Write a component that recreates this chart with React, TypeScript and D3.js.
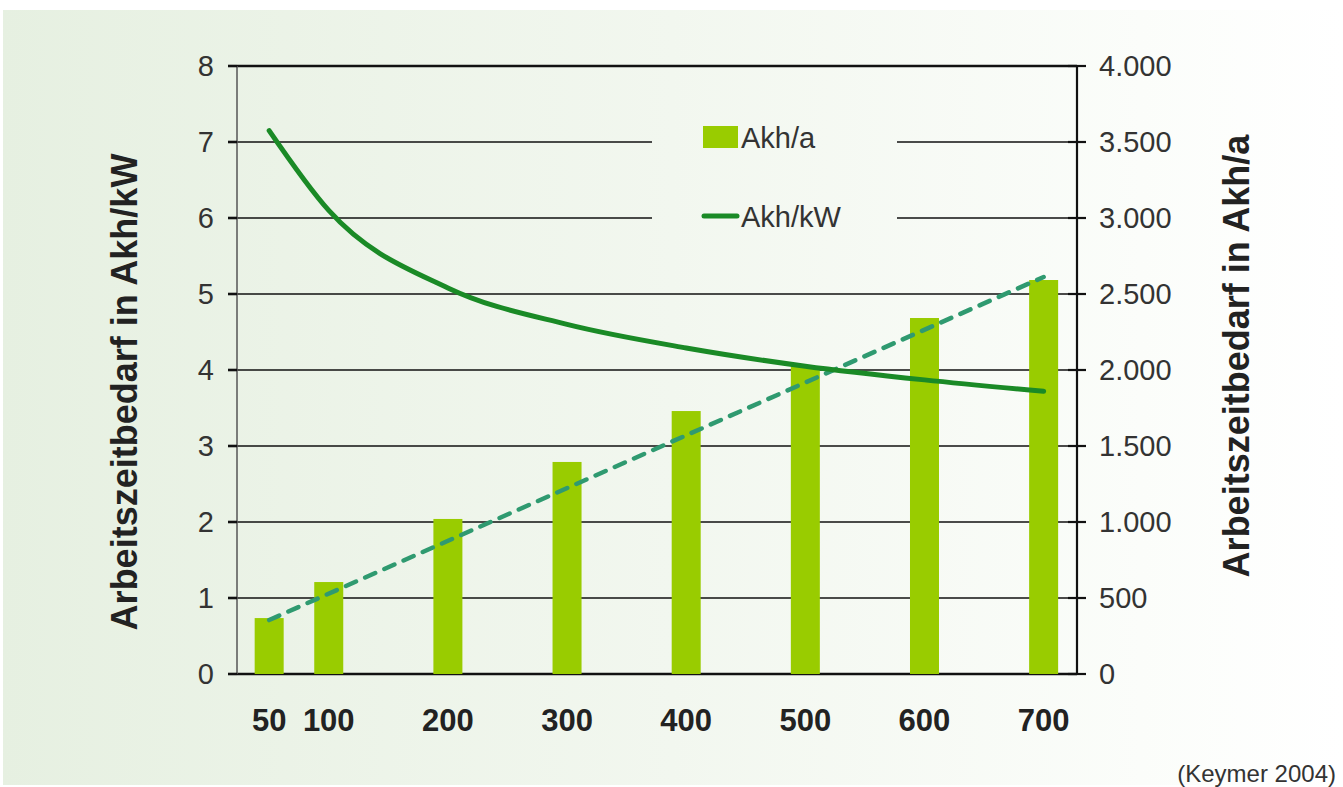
import React, { useEffect, useRef } from "react";
import * as d3 from "d3";

// installed power in kW
const leistung = [50, 100, 200, 300, 400, 500, 600, 700];
// bars: working time per year (right axis)
const akhProJahr = [368, 605, 1020, 1395, 1730, 2026, 2342, 2592];
// curve: working time per kW (left axis)
const akhProKw = [7.15, 6.1, 5.08, 4.6, 4.29, 4.05, 3.87, 3.72];
// dashed linear trend of the bars (end points)
const trendKw = [50, 700];
const trendAkh = [355, 2612];

const leftTicks = [0, 1, 2, 3, 4, 5, 6, 7, 8];
const rightTicks = [0, 500, 1000, 1500, 2000, 2500, 3000, 3500, 4000];

const W = 1343;
const H = 787;
const FONT = "Liberation Sans, Arial, sans-serif";

const App: React.FC = () => {
  const svgRef = useRef<SVGSVGElement>(null);

  useEffect(() => {
    if (!svgRef.current) return;
    const svg = d3.select(svgRef.current);
    svg.selectAll("*").remove();

    const left = 237;
    const right = 1077;
    const top = 66;
    const bottom = 674;

    // Background gradient
    const defs = svg.append("defs");
    const grad = defs
      .append("linearGradient")
      .attr("id", "bg")
      .attr("gradientUnits", "userSpaceOnUse")
      .attr("x1", 0)
      .attr("x2", W)
      .attr("y1", 0)
      .attr("y2", 0);
    grad.append("stop").attr("offset", "0%").attr("stop-color", "#e6f0e1");
    grad.append("stop").attr("offset", "50%").attr("stop-color", "#f2f7ef");
    grad.append("stop").attr("offset", "85%").attr("stop-color", "#fbfdfa");
    grad.append("stop").attr("offset", "100%").attr("stop-color", "#ffffff");

    svg.append("rect").attr("width", W).attr("height", H).attr("fill", "#ffffff");
    svg
      .append("rect")
      .attr("x", 3)
      .attr("y", 10)
      .attr("width", W - 3)
      .attr("height", 775)
      .attr("fill", "url(#bg)");

    // Scales
    const x = d3.scaleLinear().domain([23, 728]).range([left, right]);
    const yL = d3.scaleLinear().domain([0, 8]).range([bottom, top]);
    const yR = d3.scaleLinear().domain([0, 4000]).range([bottom, top]);

    // Gridlines
    svg
      .append("g")
      .selectAll("line")
      .data(leftTicks)
      .enter()
      .append("line")
      .attr("x1", left)
      .attr("x2", right)
      .attr("y1", (d) => yL(d))
      .attr("y2", (d) => yL(d))
      .attr("stroke", "#111")
      .attr("stroke-width", (d) => (d === 0 || d === 8 ? 2.4 : 1.6));

    // Legend box hides gridlines
    svg
      .append("rect")
      .attr("x", 652)
      .attr("y", 112)
      .attr("width", 245)
      .attr("height", 135)
      .attr("fill", "url(#bg)");

    // Left axis
    const axL = svg.append("g");
    axL
      .append("line")
      .attr("x1", left)
      .attr("x2", left)
      .attr("y1", top)
      .attr("y2", bottom)
      .attr("stroke", "#555")
      .attr("stroke-width", 1.5);
    axL
      .selectAll("line.tick")
      .data(leftTicks)
      .enter()
      .append("line")
      .attr("class", "tick")
      .attr("x1", left - 9)
      .attr("x2", left)
      .attr("y1", (d) => yL(d))
      .attr("y2", (d) => yL(d))
      .attr("stroke", "#111")
      .attr("stroke-width", 2.6);
    axL
      .selectAll("text")
      .data(leftTicks)
      .enter()
      .append("text")
      .attr("x", left - 23)
      .attr("y", (d) => yL(d))
      .attr("dy", "0.36em")
      .attr("text-anchor", "end")
      .style("font-family", FONT)
      .style("font-size", "29px")
      .attr("fill", "#333")
      .text((d) => d);

    // Right axis
    const axR = svg.append("g");
    axR
      .append("line")
      .attr("x1", right)
      .attr("x2", right)
      .attr("y1", top)
      .attr("y2", bottom)
      .attr("stroke", "#111")
      .attr("stroke-width", 2.2);
    axR
      .selectAll("line.tick")
      .data(rightTicks)
      .enter()
      .append("line")
      .attr("class", "tick")
      .attr("x1", right - 9)
      .attr("x2", right + 9)
      .attr("y1", (d) => yR(d))
      .attr("y2", (d) => yR(d))
      .attr("stroke", "#111")
      .attr("stroke-width", 2.2);
    const fmt = d3.formatLocale({
      decimal: ",",
      thousands: ".",
      grouping: [3],
      currency: ["", "€"],
    }).format(",d");
    axR
      .selectAll("text")
      .data(rightTicks)
      .enter()
      .append("text")
      .attr("x", right + 22)
      .attr("y", (d) => yR(d))
      .attr("dy", "0.36em")
      .attr("text-anchor", "start")
      .style("font-family", FONT)
      .style("font-size", "29px")
      .attr("fill", "#333")
      .text((d) => fmt(d));

    // Bars
    const barW = 29;
    svg
      .append("g")
      .selectAll("rect")
      .data(leistung)
      .enter()
      .append("rect")
      .attr("x", (d) => x(d) - barW / 2)
      .attr("y", (d, i) => yR(akhProJahr[i]))
      .attr("width", barW)
      .attr("height", (d, i) => bottom - yR(akhProJahr[i]))
      .attr("fill", "#99cc00");

    // Trend line (dashed)
    svg
      .append("line")
      .attr("x1", x(trendKw[0]))
      .attr("y1", yR(trendAkh[0]))
      .attr("x2", x(trendKw[1]))
      .attr("y2", yR(trendAkh[1]))
      .attr("stroke", "#2f9a70")
      .attr("stroke-width", 4.5)
      .attr("stroke-dasharray", "11 10")
      .attr("stroke-linecap", "round");

    // Akh/kW curve
    const line = d3
      .line<number>()
      .x((d) => x(d))
      .y((d, i) => yL(akhProKw[i]))
      .curve(d3.curveMonotoneX);
    svg
      .append("path")
      .datum(leistung)
      .attr("d", line)
      .attr("fill", "none")
      .attr("stroke", "#1a8a26")
      .attr("stroke-width", 5)
      .attr("stroke-linecap", "round");

    // X labels
    svg
      .append("g")
      .selectAll("text")
      .data(leistung)
      .enter()
      .append("text")
      .attr("x", (d) => x(d))
      .attr("y", 731)
      .attr("text-anchor", "middle")
      .style("font-family", FONT)
      .style("font-size", "31px")
      .style("font-weight", "bold")
      .attr("fill", "#222")
      .text((d) => d);

    // Axis titles
    svg
      .append("text")
      .attr("transform", `translate(137,${(top + bottom) / 2 + 22}) rotate(-90)`)
      .attr("text-anchor", "middle")
      .style("font-family", FONT)
      .style("font-size", "36px")
      .style("font-weight", "bold")
      .attr("fill", "#222")
      .text("Arbeitszeitbedarf in Akh/kW");
    svg
      .append("text")
      .attr("transform", `translate(1249,${(top + bottom) / 2 - 14}) rotate(-90)`)
      .attr("text-anchor", "middle")
      .style("font-family", FONT)
      .style("font-size", "36px")
      .style("font-weight", "bold")
      .attr("fill", "#222")
      .text("Arbeitszeitbedarf in Akh/a");

    // Legend
    const lg = svg.append("g");
    lg.append("rect")
      .attr("x", 703)
      .attr("y", 126)
      .attr("width", 35)
      .attr("height", 22)
      .attr("fill", "#99cc00");
    lg.append("line")
      .attr("x1", 704)
      .attr("x2", 737)
      .attr("y1", 216)
      .attr("y2", 216)
      .attr("stroke", "#1a8a26")
      .attr("stroke-width", 5)
      .attr("stroke-linecap", "round");
    lg.selectAll("text")
      .data(["Akh/a", "Akh/kW"])
      .enter()
      .append("text")
      .attr("x", 741)
      .attr("y", (d, i) => (i === 0 ? 148 : 227))
      .style("font-family", FONT)
      .style("font-size", "29px")
      .attr("fill", "#333")
      .text((d) => d);

    // Source
    svg
      .append("text")
      .attr("x", 1336)
      .attr("y", 782)
      .attr("text-anchor", "end")
      .style("font-family", FONT)
      .style("font-size", "24px")
      .attr("fill", "#333")
      .text("(Keymer 2004)");
  }, []);

  return (
    <svg
      ref={svgRef}
      width={W}
      height={H}
      style={{ display: "block", position: "absolute", left: 0, top: 0 }}
    />
  );
};

export default App;
